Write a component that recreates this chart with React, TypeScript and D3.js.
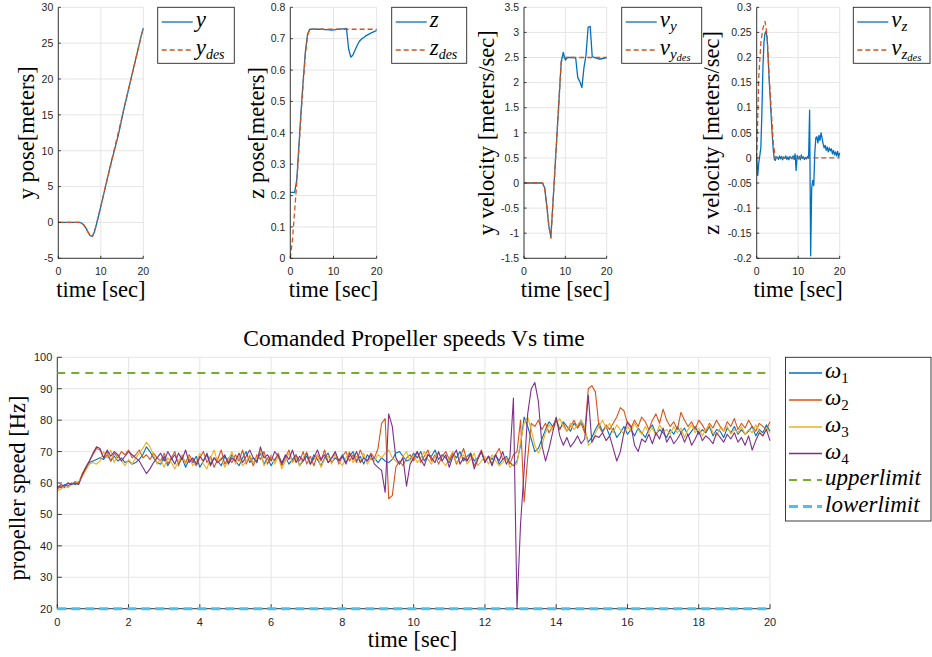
import React from 'react';
import * as d3 from 'd3';

// ---------- colours (MATLAB default order) ----------
const C_BLUE = '#0072BD';
const C_ORANGE = '#D95319';
const C_YELLOW = '#EDB120';
const C_PURPLE = '#7E2F8E';
const C_GREEN = '#77AC30';
const C_CYAN = '#4DBEEE';

const SERIF = "'Liberation Serif', 'Times New Roman', serif";
const SANS = "'Liberation Sans', Arial, Helvetica, sans-serif";

// ---------- time bases ----------
const T_HALF = d3.range(0, 20.001, 0.5);
const T_QUARTER = d3.range(0, 20.001, 0.25);
const T_TENTH = d3.range(0, 20.001, 0.1);

// ---------- top subplots data ----------
const Y_DES = [0, 0, 0, 0, 0, 0, 0, 0, 0, 0, 0, -0.1, -0.35, -0.8, -1.35, -1.85, -1.95, -1.3, -0.2, 1.0, 2.25, 3.5, 4.75, 6, 7.25, 8.5, 9.75, 11, 12.25, 13.5, 14.75, 16, 17.25, 18.5, 19.75, 21, 22.25, 23.5, 24.75, 26, 27.1];
const Y_ACT = [0, 0, 0, 0, 0, 0, 0, 0, 0, 0, 0, -0.1, -0.35, -0.8, -1.35, -1.85, -1.95, -1.3, -0.2, 1.0, 2.25, 3.5, 4.75, 6, 7.25, 8.5, 9.6, 10.75, 11.9, 13.2, 14.6, 16, 17.25, 18.5, 19.75, 21, 22.25, 23.5, 24.75, 26, 27.1];

const Z_DES = [0, 0.06, 0.15, 0.24, 0.35, 0.46, 0.56, 0.65, 0.71, 0.73, 0.73, 0.73, 0.73, 0.73, 0.73, 0.73, 0.73, 0.73, 0.73, 0.73, 0.73, 0.73, 0.73, 0.73, 0.73, 0.73, 0.73, 0.73, 0.73, 0.73, 0.73, 0.73, 0.73, 0.73, 0.73, 0.73, 0.73, 0.73, 0.73, 0.73, 0.73];
const Z_ACT = [0.21, 0.21, 0.21, 0.25, 0.36, 0.47, 0.57, 0.66, 0.715, 0.73, 0.73, 0.73, 0.73, 0.73, 0.73, 0.73, 0.729, 0.729, 0.728, 0.727, 0.728, 0.729, 0.73, 0.73, 0.731, 0.731, 0.733, 0.667, 0.641, 0.648, 0.664, 0.679, 0.692, 0.699, 0.704, 0.709, 0.713, 0.717, 0.72, 0.723, 0.726];

const VY_DES = [0, 0, 0, 0, 0, 0, 0, 0, 0, 0, -0.1, -0.45, -0.85, -1.1, -0.4, 0.3, 1.0, 1.7, 2.4, 2.5, 2.5, 2.5, 2.5, 2.5, 2.5, 2.5, 2.5, 2.5, 2.5, 2.5, 2.5, 2.5, 2.5, 2.5, 2.5, 2.5, 2.5, 2.5, 2.5, 2.5, 2.5];
const VY_ACT = [0, 0, 0, 0, 0, 0, 0, 0, 0, 0, -0.1, -0.45, -0.85, -1.08, -0.4, 0.3, 1.0, 1.7, 2.42, 2.6, 2.45, 2.5, 2.5, 2.5, 2.5, 2.49, 2.1, 2.02, 1.9, 2.3, 2.55, 3.1, 3.12, 2.52, 2.5, 2.49, 2.47, 2.47, 2.48, 2.49, 2.5];

const VZ_DES = [0, 0.16, 0.23, 0.258, 0.272, 0.245, 0.165, 0.095, 0.03, 0, 0, 0, 0, 0, 0, 0, 0, 0, 0, 0, 0, 0, 0, 0, 0, 0, 0, 0, 0, 0, 0, 0, 0, 0, 0, 0, 0, 0, 0, 0, 0];
const VZ_ACT = [
  0, -0.035, -0.01, 0.005, 0.02, 0.09, 0.18, 0.23, 0.248, 0.252,
  0.24, 0.2, 0.155, 0.12, 0.08, 0.045, 0.015, -0.003, -0.005, 0.002,
  0.001, -0.003, 0.004, -0.002, 0.003, -0.004, 0.002, -0.001, 0.004, -0.003,
  0.002, -0.004, 0.003, 0.001, -0.002, 0.004, -0.003, 0.008, -0.025, 0.005,
  -0.002, 0.003, -0.004, 0.006, -0.001, 0.002, -0.003, 0.001, -0.002, 0.003,
  -0.001, 0.095, -0.195, -0.06, -0.045, -0.055, 0.01, 0.04, 0.042, 0.03,
  0.045, 0.035, 0.05, 0.04, 0.028, 0.02, 0.025, 0.015, 0.022, 0.012,
  0.02, 0.014, 0.018, 0.008, 0.015, 0.006, 0.012, 0.004, 0.013, 0.002,
  0.01,
];

// ---------- propeller speeds (0.1 s) ----------
const W1 = [
  59, 58.5, 59.5, 59, 60, 59.5, 60,
  62.5, 64.5, 66.5, 67, 67.5,
  68, 67.5, 69, 67, 68.5, 67, 68, 66.5, 67, 66, 66.5, 67.5, 69, 71.5, 70, 68, 66.5,
  66, 68.5, 65.5, 67.5, 69, 66, 68, 65, 67.5, 66.5,
  68.5, 65, 67, 69.5, 66, 68, 67, 65.5, 68.5, 66.5,
  69, 67, 65.5, 68, 70, 66.5, 68, 67, 69.5, 66,
  68, 65.5, 67.5, 69, 66.5, 68.5, 66, 67.5, 69, 65.5,
  67, 68.5, 66, 69, 67.5, 65.5, 68, 69.5, 66.5, 68,
  67, 69, 66.5, 68.5, 70, 67, 68.5, 66, 69, 67.5,
  68, 66.5,
  68, 67, 66.5, 67.5, 69.5, 70, 68.5, 67,
  67.5, 69.5, 68, 70, 67, 69, 68.5, 70.5, 67.5, 69,
  68, 66.5, 69.5, 68, 70, 67, 68.5, 69.5, 67, 68,
  70, 66.5, 68.5, 67.5, 69, 66, 67.5, 68.5, 66.5, 65.5,
  67, 72, 81, 78, 74, 70, 71, 74, 77, 79.5,
  78, 80, 77, 79.5, 78, 76.5, 79, 77.5, 80, 77,
  73, 74.5, 77,
  79, 76.5, 78, 75, 77.5, 74.5, 76, 78, 75.5, 77,
  75, 77.5, 76, 74.5, 77, 78.5, 75.5, 77, 76, 74.5,
  77, 75.5, 78, 76, 77.5, 75, 76.5, 78, 75.5, 77,
  76, 78, 75, 77, 76.5, 74.5, 77.5, 76, 78, 75.5,
  77, 75.5, 76.5, 78, 75, 77, 76, 78.5, 76.5,
];
const W2 = [
  58, 59, 58.5, 60, 59.5, 60.5, 60,
  63, 65, 67, 69, 71,
  70.5, 68, 70, 67, 69.5, 68, 70, 69, 70.5, 68, 69, 70.5, 68, 69, 67.5, 69.5, 68,
  67, 69.5, 66, 68, 70, 65.5, 68.5, 66.5, 69, 67,
  65.5, 68, 70, 66.5, 68.5, 65, 67.5, 70.5, 66, 68,
  66.5, 69, 67, 70.5, 66, 68.5, 65.5, 69, 67.5, 70,
  66, 68.5, 67, 69.5, 65.5, 68, 70.5, 66.5, 69, 67,
  70, 66, 68.5, 65.5, 69, 67, 70.5, 66.5, 68, 69.5,
  66, 68.5, 70, 67, 69, 66.5, 70.5, 68, 67, 69.5,
  68, 71,
  79, 80.5, 55, 56, 65, 67, 65.5, 68,
  69, 67, 70, 66.5, 68.5, 70.5, 67, 69, 66, 68.5,
  70, 67.5, 69.5, 66, 68, 71, 67, 69, 65.5, 68,
  70.5, 67, 68.5, 66, 69, 71, 67.5, 68, 66, 69,
  70, 80, 54, 68, 79, 78, 80, 77, 79, 76,
  78, 80.5, 77, 79, 76.5, 78, 80, 77.5, 79, 76,
  90, 91, 89, 78,
  76, 78.5, 77, 79, 81, 84, 83, 79, 77.5, 80,
  78, 81, 79.5, 77, 80, 82, 79, 83.5, 80, 78,
  79.5, 77, 82.5, 80, 78, 79.5, 77, 80, 78.5, 76.5,
  79, 77.5, 80, 78, 76.5, 79.5, 78, 80.5, 77, 79,
  77.5, 80, 78, 76.5, 79, 78, 77, 79.5,
];
const W3 = [
  57.5, 58, 59, 58.5, 59.5, 60, 60.5,
  62, 64, 66, 66.5, 66,
  67, 70, 68, 70.5, 66.5, 69, 67, 65.5, 67.5, 66, 68, 69.5, 71, 73, 71.5, 69, 66,
  67.5, 65, 68, 66.5, 64.5, 67, 69, 66, 68.5, 65.5,
  67, 69.5, 66, 64.5, 68, 70.5, 66.5, 68, 65, 67.5,
  70, 66, 68.5, 65.5, 67, 69, 66.5, 68, 70.5, 65.5,
  67.5, 69, 66, 68.5, 64.5, 67, 69.5, 66.5, 68, 65.5,
  68, 70, 66, 67.5, 69, 65, 67.5, 68.5, 66, 69.5,
  67, 65.5, 68, 70, 66.5, 68.5, 67, 69.5, 66, 68,
  67, 69,
  68, 69.5, 70.5, 68, 67, 66, 68.5, 70,
  67, 69, 66.5, 68, 70, 67.5, 66, 68.5, 69.5, 67,
  65.5, 68, 70, 66.5, 68, 69, 66, 67.5, 69.5, 65.5,
  67, 68.5, 66, 69, 67, 65.5, 66.5, 68, 65, 66,
  66, 73, 79, 81, 77, 72, 69.5, 72, 76, 78.5,
  77, 79, 80.5, 78, 76.5, 79, 77, 78.5, 80, 78,
  72, 73, 76,
  78, 80, 77.5, 79, 76, 78.5, 77, 75.5, 78, 76.5,
  79, 77, 75.5, 78, 76, 77.5, 75, 78.5, 76.5, 77,
  75.5, 78, 76, 77.5, 74.5, 77, 78.5, 76, 77.5, 75,
  77, 78.5, 76, 75, 77.5, 76.5, 78, 75.5, 77, 76,
  78, 75.5, 77, 76, 78.5, 76.5, 75, 77.5, 76,
];
const W4 = [
  58.5, 59.5, 59, 60, 59.5, 60, 59.5,
  62.5, 65, 67, 69.5, 71.5,
  71, 68, 70.5, 68.5, 70, 69, 67, 68.5, 70, 69, 68, 67, 65, 63, 64.5, 66.5, 68,
  69.5, 67, 70, 68, 66, 69.5, 67.5, 70.5, 66.5, 68,
  66, 68.5, 67, 69, 65.5, 68, 66.5, 67.5, 69, 66,
  68, 67, 69.5, 66.5, 68.5, 70.5, 68, 66.5, 71.5, 68,
  69, 67, 70, 68.5, 66, 69, 67.5, 70.5, 66.5, 68.5,
  67, 69.5, 66, 68, 70.5, 67.5, 69, 66.5, 68, 70,
  67, 68.5, 66, 69.5, 67.5, 70, 66.5, 68, 67, 69,
  66, 65,
  64, 57, 82, 78, 68, 66, 68, 59,
  66, 68, 70, 67.5, 65.5, 69, 68, 66.5, 70, 67,
  69, 65, 68.5, 70.5, 66, 68, 67, 69.5, 64.5, 67.5,
  70, 66.5, 68.5, 65.5, 69, 67, 70, 66, 68, 87,
  20, 47, 64, 82, 90, 92, 86, 72, 67, 71,
  76, 81, 75, 72, 74.5, 71.5, 73, 75, 72.5, 74,
  88, 73, 75, 74.5, 76, 73.5, 75, 71, 67, 70, 76, 79.5, 78,
  72, 70, 74, 73, 75.5, 72.5, 76, 74, 77.5, 73,
  75, 72.5, 74, 76, 73, 75.5, 72, 74, 76.5, 73.5,
  75, 74, 72.5, 76, 74.5, 73, 75.5, 74, 76, 73,
  74.5, 72, 75, 70.5, 73.5, 76, 75, 77, 73.5,
];
const UPPER_LIMIT = 95;
const LOWER_LIMIT = 20;

// ---------- ticks ----------
const TOP_X_TICKS = [0, 10, 20];
const Y1_TICKS = [-5, 0, 5, 10, 15, 20, 25, 30];
const Y2_TICKS = [0, 0.1, 0.2, 0.3, 0.4, 0.5, 0.6, 0.7, 0.8];
const Y3_TICKS = [-1.5, -1, -0.5, 0, 0.5, 1, 1.5, 2, 2.5, 3, 3.5];
const Y4_TICKS = [-0.2, -0.15, -0.1, -0.05, 0, 0.05, 0.1, 0.15, 0.2, 0.25, 0.3];
const BOT_X_TICKS = [0, 2, 4, 6, 8, 10, 12, 14, 16, 18, 20];
const BOT_Y_TICKS = [20, 30, 40, 50, 60, 70, 80, 90, 100];

const fmt = (v: number) => String(+v.toFixed(2));

type LineSpec = { t: number[]; v: number[]; color: string; width: number; dash?: string };

function Axes(props: {
  id: string;
  left: number; right: number; top: number; bottom: number;
  yDomain: [number, number]; xTicks: number[]; yTicks: number[];
  lines: LineSpec[]; tickLen: number; tickFont: number; xLabelY: number;
}) {
  const { id, left, right, top, bottom, yDomain, xTicks, yTicks, lines, tickLen, tickFont, xLabelY } = props;
  const x = d3.scaleLinear().domain([0, 20]).range([left, right]);
  const y = d3.scaleLinear().domain(yDomain).range([bottom, top]);
  const gen = d3.line<[number, number]>().x((d) => x(d[0])).y((d) => y(d[1]));
  return (
    <g>
      <defs>
        <clipPath id={id}>
          <rect x={left - 2} y={top - 2} width={right - left + 4} height={bottom - top + 4} />
        </clipPath>
      </defs>
      {xTicks.map((t) => (
        <line key={'gx' + t} x1={x(t)} x2={x(t)} y1={top} y2={bottom} stroke="#e5e5e5" strokeWidth={1} />
      ))}
      {yTicks.map((t) => (
        <line key={'gy' + t} x1={left} x2={right} y1={y(t)} y2={y(t)} stroke="#e5e5e5" strokeWidth={1} />
      ))}
      <g clipPath={`url(#${id})`}>
        {lines.map((l, i) => {
          const pts = l.t.map((t, k) => [t, l.v[k]] as [number, number]).filter((d) => d[1] !== undefined);
          return (
            <path key={i} d={gen(pts) || ''} fill="none" stroke={l.color} strokeWidth={l.width}
              strokeDasharray={l.dash} strokeLinejoin="round" />
          );
        })}
      </g>
      <line x1={left} x2={right} y1={bottom} y2={bottom} stroke="#262626" strokeWidth={0.9} />
      <line x1={left} x2={left} y1={top} y2={bottom} stroke="#262626" strokeWidth={0.9} />
      {xTicks.map((t) => (
        <g key={'tx' + t}>
          <line x1={x(t)} x2={x(t)} y1={bottom} y2={bottom - tickLen} stroke="#262626" strokeWidth={0.9} />
          <text x={x(t)} y={xLabelY} textAnchor="middle" fontFamily={SANS} fontSize={tickFont} fill="#262626">{fmt(t)}</text>
        </g>
      ))}
      {yTicks.map((t) => (
        <g key={'ty' + t}>
          <line x1={left} x2={left + tickLen} y1={y(t)} y2={y(t)} stroke="#262626" strokeWidth={0.9} />
          <text x={left - 5} y={y(t) + tickFont * 0.36} textAnchor="end" fontFamily={SANS} fontSize={tickFont} fill="#262626">{fmt(t)}</text>
        </g>
      ))}
    </g>
  );
}

type LegendItem = { color: string; width: number; dash?: string; label: React.ReactNode };

function Legend(props: { left: number; right: number; top: number; bottom: number; rows: number[]; lineX: [number, number]; textX: number; items: LegendItem[]; fontSize: number }) {
  const { left, right, top, bottom, rows, lineX, textX, items, fontSize } = props;
  return (
    <g>
      <rect x={left} y={top} width={right - left} height={bottom - top} fill="#fff" stroke="#262626" strokeWidth={0.9} />
      {items.map((it, i) => (
        <g key={i}>
          <line x1={lineX[0]} x2={lineX[1]} y1={rows[i]} y2={rows[i]} stroke={it.color} strokeWidth={it.width} strokeDasharray={it.dash} />
          <text x={textX} y={rows[i] + fontSize * 0.22} fontFamily={SERIF} fontSize={fontSize} fill="#000">{it.label}</text>
        </g>
      ))}
    </g>
  );
}

const it = (s: string) => <tspan fontStyle="italic">{s}</tspan>;

export default function App() {
  const topTop = 7.3;
  const topBot = 258.3;
  const topPlots = [
    { left: 58.3, right: 143.3, dom: [-5, 30] as [number, number], ticks: Y1_TICKS, act: Y_ACT, des: Y_DES, tAct: T_HALF, tDes: T_HALF,
      ylabel: 'y pose[meters]', ylx: 34, leg: [157.7, 234.3],
      l1: it('y'), l2: <>{it('y')}<tspan fontStyle="italic" fontSize={14} dy={4}>des</tspan></> },
    { left: 290.3, right: 376.7, dom: [0, 0.8] as [number, number], ticks: Y2_TICKS, act: Z_ACT, des: Z_DES, tAct: T_HALF, tDes: T_HALF,
      ylabel: 'z pose[meters]', ylx: 264, leg: [391.7, 466.7],
      l1: it('z'), l2: <>{it('z')}<tspan fontStyle="italic" fontSize={14} dy={4}>des</tspan></> },
    { left: 524, right: 606.7, dom: [-1.5, 3.5] as [number, number], ticks: Y3_TICKS, act: VY_ACT, des: VY_DES, tAct: T_HALF, tDes: T_HALF,
      ylabel: 'y velocity [meters/sec]', ylx: 494, leg: [621.7, 701.7],
      l1: <>{it('v')}<tspan fontStyle="italic" fontSize={15} dy={4}>y</tspan></>,
      l2: <>{it('v')}<tspan fontStyle="italic" fontSize={15} dy={3.5}>y</tspan><tspan fontStyle="italic" fontSize={10.5} dy={2.5}>des</tspan></> },
    { left: 756.7, right: 839.7, dom: [-0.2, 0.3] as [number, number], ticks: Y4_TICKS, act: VZ_ACT, des: VZ_DES, tAct: T_QUARTER, tDes: T_HALF,
      ylabel: 'z velocity [meters/sec]', ylx: 719, leg: [853.3, 930],
      l1: <>{it('v')}<tspan fontStyle="italic" fontSize={15} dy={4}>z</tspan></>,
      l2: <>{it('v')}<tspan fontStyle="italic" fontSize={15} dy={3.5}>z</tspan><tspan fontStyle="italic" fontSize={10.5} dy={2.5}>des</tspan></> },
  ];

  const bL = 57.3, bR = 770, bT = 357.3, bB = 608.7;
  const bx = d3.scaleLinear().domain([0, 20]).range([bL, bR]);
  const by = d3.scaleLinear().domain([20, 100]).range([bB, bT]);

  return (
    <svg width={932} height={657} style={{ position: 'absolute', left: 0, top: 0, background: '#fff' }}>
      <rect x={0} y={0} width={932} height={657} fill="#fff" />
      {topPlots.map((p, i) => (
        <g key={i}>
          <Axes id={'clip' + i} left={p.left} right={p.right} top={topTop} bottom={topBot} yDomain={p.dom}
            xTicks={TOP_X_TICKS} yTicks={p.ticks} tickLen={2.5} tickFont={10.5} xLabelY={274.5}
            lines={[
              { t: p.tAct, v: p.act, color: C_BLUE, width: 1.3 },
              { t: p.tDes, v: p.des, color: C_ORANGE, width: 1.3, dash: '5,3' },
            ]} />
          <text x={(p.left + p.right) / 2} y={297} textAnchor="middle" fontFamily={SERIF} fontSize={22.5} fill="#000">time [sec]</text>
          <text transform={`translate(${p.ylx},${(topTop + topBot) / 2}) rotate(-90)`} textAnchor="middle" fontFamily={SERIF} fontSize={22.5} fill="#000">{p.ylabel}</text>
          <Legend left={p.leg[0]} right={p.leg[1]} top={7.3} bottom={63.3} rows={[22, 50]}
            lineX={[p.leg[0] + 4, p.leg[0] + 35]} textX={p.leg[0] + 38} fontSize={23}
            items={[
              { color: C_BLUE, width: 1.3, label: p.l1 },
              { color: C_ORANGE, width: 1.3, dash: '5,3', label: p.l2 },
            ]} />
        </g>
      ))}

      {/* bottom chart */}
      <text x={414} y={346} textAnchor="middle" fontFamily={SERIF} fontSize={23.5} fill="#000">Comanded Propeller speeds Vs time</text>
      <Axes id="clipB" left={bL} right={bR} top={bT} bottom={bB} yDomain={[20, 100]}
        xTicks={BOT_X_TICKS} yTicks={BOT_Y_TICKS} tickLen={4.5} tickFont={11} xLabelY={626}
        lines={[
          { t: T_TENTH, v: W1, color: C_BLUE, width: 1.1 },
          { t: T_TENTH, v: W2, color: C_ORANGE, width: 1.1 },
          { t: T_TENTH, v: W3, color: C_YELLOW, width: 1.1 },
          { t: T_TENTH, v: W4, color: C_PURPLE, width: 1.1 },
        ]} />
      <line x1={bx(0)} x2={bx(20)} y1={by(UPPER_LIMIT)} y2={by(UPPER_LIMIT)} stroke={C_GREEN} strokeWidth={2.2} strokeDasharray="8,6" />
      <line x1={bx(0)} x2={bx(20)} y1={by(LOWER_LIMIT)} y2={by(LOWER_LIMIT)} stroke={C_CYAN} strokeWidth={3} strokeDasharray="9,5" />
      <text x={412.5} y={647} textAnchor="middle" fontFamily={SERIF} fontSize={22.5} fill="#000">time [sec]</text>
      <text transform={`translate(25,${(bT + bB) / 2 + 5}) rotate(-90)`} textAnchor="middle" fontFamily={SERIF} fontSize={22.5} fill="#000">propeller speed [Hz]</text>
      <Legend left={785.5} right={931} top={357.3} bottom={521} rows={[373, 400, 427, 453.5, 480, 506.5]}
        lineX={[789, 822]} textX={825} fontSize={23}
        items={[
          { color: C_BLUE, width: 1.3, label: <>{it('ω')}<tspan fontSize={15} dy={5}>1</tspan></> },
          { color: C_ORANGE, width: 1.3, label: <>{it('ω')}<tspan fontSize={15} dy={5}>2</tspan></> },
          { color: C_YELLOW, width: 1.3, label: <>{it('ω')}<tspan fontSize={15} dy={5}>3</tspan></> },
          { color: C_PURPLE, width: 1.3, label: <>{it('ω')}<tspan fontSize={15} dy={5}>4</tspan></> },
          { color: C_GREEN, width: 2.2, dash: '8,6', label: it('upperlimit') },
          { color: C_CYAN, width: 3, dash: '9,5', label: it('lowerlimit') },
        ]} />
    </svg>
  );
}
